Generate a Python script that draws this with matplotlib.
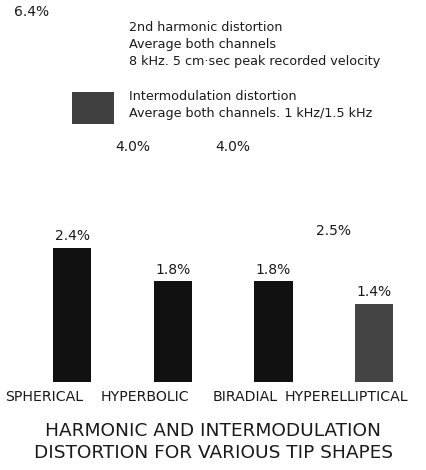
import matplotlib
matplotlib.use('Agg')
import matplotlib.pyplot as plt
from matplotlib.patches import Rectangle
import numpy as np

" data "
tip_shapes      = ['SPHERICAL', 'HYPERBOLIC', 'BIRADIAL', 'HYPERELLIPTICAL']
harmonic_pct    = [6.4, 4.0, 4.0, 2.5]     # 2nd harmonic, 8 kHz
intermod_pct    = [2.4, 1.8, 1.8, 1.4]     # IM, 1 kHz/1.5 kHz
intermod_colors = ['#111111', '#111111', '#111111', '#444444']
harmonic_color  = '#ffffff'

title = 'HARMONIC AND INTERMODULATION\nDISTORTION FOR VARIOUS TIP SHAPES'
legend_harm = '2nd harmonic distortion\nAverage both channels\n8 kHz. 5 cm\u00b7sec peak recorded velocity'
legend_im   = 'Intermodulation distortion\nAverage both channels. 1 kHz/1.5 kHz'

text_col = '#1a1a1a'
plt.rcParams['font.family'] = ['DejaVu Sans']

fig = plt.figure(figsize=(4.26, 4.70), dpi=100)
W, H = 426, 470
ax = fig.add_axes([0, 88 / H, 1, 382 / H])

x = np.arange(len(tip_shapes))
width = 0.38
off = 0.2

hb = ax.bar(x - off, harmonic_pct, width, color=harmonic_color, edgecolor='none')
ib = ax.bar(x + off, intermod_pct, width, color=intermod_colors, edgecolor='none')

for bars, vals in ((hb, harmonic_pct), (ib, intermod_pct)):
    for b, v in zip(bars, vals):
        ax.annotate('%.1f%%' % v, (b.get_x() + b.get_width() / 2, v),
                    xytext=(0, 3), textcoords='offset points',
                    ha='center', va='bottom', fontsize=10, color=text_col)

ax.set_xlim(-52 / 100.7, (W - 52) / 100.7)
ax.set_ylim(0, 382 / 56.0)
ax.set_xticks(x - 0.08)
ax.set_xticklabels(tip_shapes, fontsize=10.2, color=text_col)
ax.tick_params(axis='x', length=0, pad=6)
ax.set_yticks([])
for s in ax.spines.values():
    s.set_visible(False)
ax.patch.set_alpha(0)

# legend swatches and captions
fig.patches.append(Rectangle((72 / W, 1 - 56 / H), 42 / W, 32 / H, transform=fig.transFigure,
                             facecolor=harmonic_color, edgecolor='none'))
fig.patches.append(Rectangle((72 / W, 1 - 124 / H), 42 / W, 32 / H, transform=fig.transFigure,
                             facecolor='#404040', edgecolor='none'))
fig.text(129 / W, 1 - 21 / H, legend_harm, ha='left', va='top', fontsize=9.2,
         color=text_col, linespacing=1.42)
fig.text(129 / W, 1 - 90 / H, legend_im, ha='left', va='top', fontsize=9.2,
         color=text_col, linespacing=1.42)

fig.text(0.5, 1 - 422 / H, title, ha='center', va='top', fontsize=13.3,
         color=text_col, linespacing=1.3)

fig.savefig('out.png', dpi=100, facecolor='white')
